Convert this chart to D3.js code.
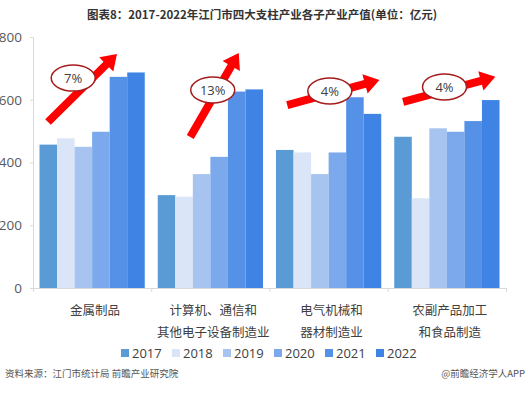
<!DOCTYPE html>
<html><head><meta charset="utf-8">
<script src="https://cdn.jsdelivr.net/npm/d3@7"></script>
<style>body{margin:0;background:#fff}svg{display:block}</style>
</head><body><svg id="c" width="528" height="394"></svg>
<script>
const categories = ["金属制品", "计算机、通信和\n其他电子设备制造业", "电气机械和\n器材制造业", "农副产品加工\n和食品制造"];
const years = ["2017", "2018", "2019", "2020", "2021", "2022"];
const v2017 = [457, 296, 440, 482];
const v2018 = [477, 291, 432, 286];
const v2019 = [450, 363, 363, 509];
const v2020 = [498, 418, 432, 498];
const v2021 = [673, 626, 608, 532];
const v2022 = [687, 633, 555, 599];
const growth = ["7%", "13%", "4%", "4%"];
const yTicks = [0, 200, 400, 600, 800];
const colors = ["#5b9bd5", "#dae6f7", "#a7c4f0", "#7ca9ec", "#5591e6", "#3f84e5"];
// arrow annotations: [tailFrac, tailVal, tipFrac, tipVal, ellipseFrac, ellipseVal]
const arrowTail = [[0.127, 529], [0.33, 481], [0.15, 583], [0.13, 593]];
const arrowTip = [[0.71, 746], [0.74, 749], [0.93, 663], [0.91, 673]];
const badgePos = [[0.34, 669], [0.52, 631], [0.51, 628], [0.48, 641]];

const series = [v2017, v2018, v2019, v2020, v2021, v2022];
const svg = d3.select("#c");
const x0 = d3.scaleBand().domain(categories).range([33, 506]);
const x1 = d3.scaleBand().domain(years).range([6.5, x0.bandwidth() - 6.5]);
const y = d3.scaleLinear().domain([0, 800]).range([288, 37]);
const color = d3.scaleOrdinal().domain(years).range(colors);

// title
svg.append("text").attr("x", 262).attr("y", 19).attr("text-anchor", "middle")
  .attr("font-family", "Noto Sans CJK SC").attr("font-weight", "bold").attr("font-size", 11.5)
  .attr("fill", "#333").text("图表8：2017-2022年江门市四大支柱产业各子产业产值(单位：亿元)");

// y axis
const ya = svg.append("g").attr("transform", "translate(33,0)")
  .call(d3.axisLeft(y).tickValues(yTicks).tickSize(3).tickPadding(8));
ya.select(".domain").attr("stroke", "#d9d9d9");
ya.selectAll(".tick line").attr("stroke", "#d9d9d9");
ya.selectAll(".tick text").attr("font-family", "Open Sans").attr("font-size", 13.5).attr("fill", "#595959").attr("x", -11);

// bars
const rows = categories.map((c, i) => years.map((yr, j) => ({c, yr, v: series[j][i]})));
svg.append("g").selectAll("g").data(rows).join("g")
  .attr("transform", (d, i) => `translate(${x0(categories[i])},0)`)
  .selectAll("rect").data(d => d).join("rect")
  .attr("x", d => x1(d.yr)).attr("width", x1.bandwidth())
  .attr("y", d => y(d.v)).attr("height", d => y(0) - y(d.v))
  .attr("fill", d => color(d.yr));

// x axis baseline and ticks
svg.append("line").attr("x1", 33).attr("x2", 506).attr("y1", y(0) + 0.5).attr("y2", y(0) + 0.5).attr("stroke", "#d9d9d9");
const bounds = categories.map(c => x0(c)).concat([x0.range()[1]]);
svg.append("g").selectAll("line").data(bounds).join("line")
  .attr("x1", d => d + 0.5).attr("x2", d => d + 0.5).attr("y1", y(0)).attr("y2", y(0) + 4).attr("stroke", "#d9d9d9");

// category labels
svg.append("g").selectAll("text").data(categories).join("text")
  .attr("text-anchor", "middle").attr("font-family", "Noto Sans CJK SC").attr("font-size", 12.5).attr("fill", "#404040")
  .each(function(c) {
    const t = d3.select(this);
    c.split("\n").forEach((line, k) => {
      t.append("tspan").attr("x", x0(c) + x0.bandwidth() / 2 + 3).attr("y", 315 + k * 22).text(line);
    });
  });

// arrows
const arrowG = svg.append("g");
categories.forEach((c, i) => {
  const bx = x0(c), bw = x0.bandwidth();
  const x1p = bx + arrowTail[i][0] * bw, y1p = y(arrowTail[i][1]);
  const x2p = bx + arrowTip[i][0] * bw, y2p = y(arrowTip[i][1]);
  const dx = x2p - x1p, dy = y2p - y1p, L = Math.hypot(dx, dy);
  const ux = dx / L, uy = dy / L, nx = -uy, ny = ux;
  const hw = 4, headW = 10, headL = 15;
  const bxp = x2p - ux * headL, byp = y2p - uy * headL;
  const pts = [
    [x1p + nx * hw, y1p + ny * hw], [bxp + nx * hw, byp + ny * hw], [bxp + nx * headW, byp + ny * headW],
    [x2p, y2p], [bxp - nx * headW, byp - ny * headW], [bxp - nx * hw, byp - ny * hw], [x1p - nx * hw, y1p - ny * hw]
  ];
  arrowG.append("polygon").attr("points", pts.map(p => p.join(",")).join(" ")).attr("fill", "#ff0000");
  const cx = bx + badgePos[i][0] * bw, cy = y(badgePos[i][1]);
  arrowG.append("ellipse").attr("cx", cx).attr("cy", cy).attr("rx", 22).attr("ry", 13)
    .attr("fill", "#fff").attr("stroke", "#a51c1c").attr("stroke-width", 1.5);
  arrowG.append("text").attr("x", cx).attr("y", cy + 5).attr("text-anchor", "middle")
    .attr("font-family", "Open Sans").attr("font-size", 13).attr("fill", "#404040").text(growth[i]);
});

// legend
const lg = svg.append("g").selectAll("g").data(years).join("g")
  .attr("transform", (d, i) => `translate(${121 + i * 51},353)`);
lg.append("rect").attr("x", 0).attr("y", -4).attr("width", 8).attr("height", 8).attr("fill", d => color(d));
lg.append("text").attr("x", 11).attr("y", 5).attr("font-family", "Open Sans").attr("font-size", 13).attr("fill", "#404040").text(d => d);

// footer
svg.append("text").attr("x", 5).attr("y", 377).attr("font-family", "Noto Sans CJK SC").attr("font-size", 9.5).attr("fill", "#555")
  .text("资料来源：江门市统计局 前瞻产业研究院");
svg.append("text").attr("x", 525).attr("y", 377).attr("text-anchor", "end").attr("font-family", "Noto Sans CJK SC").attr("font-size", 9.5).attr("fill", "#555")
  .text("@前瞻经济学人APP");
</script></body></html>
